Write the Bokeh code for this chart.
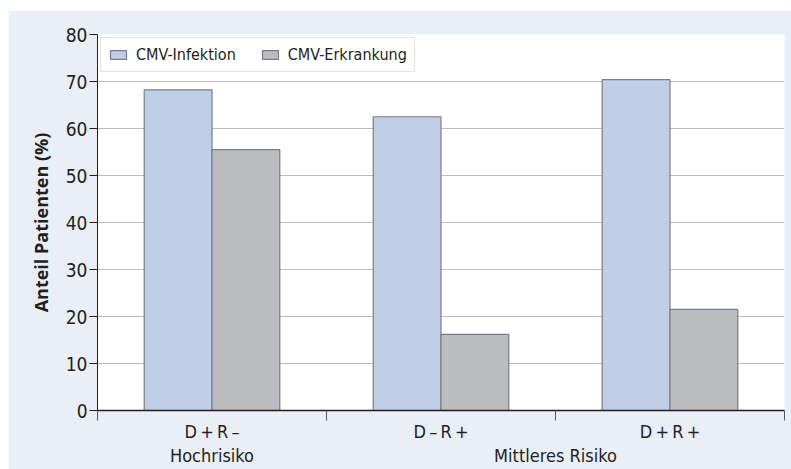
from bokeh.plotting import figure
from bokeh.models import (ColumnDataSource, FixedTicker, LinearAxis, Legend, LegendItem, Range1d)
from bokeh.embed import file_html
from bokeh.resources import INLINE

groups = ["D\u2009+\u2009R\u2009\u2013", "D\u2009\u2013\u2009R\u2009+", "D\u2009+\u2009R\u2009+"]
infektion = [68.2, 62.5, 70.4]
erkrankung = [55.5, 16.2, 21.5]
series_names = ["CMV-Infektion", "CMV-Erkrankung"]
group_labels = ["Hochrisiko", "Mittleres Risiko"]
y_ticks = [0, 10, 20, 30, 40, 50, 60, 70, 80]

FONT = "DejaVu Sans Condensed, Open Sans, sans-serif"
BG = "#e9eef7"
BLUE = "#c1cee8"
GRAY = "#bbbcc0"
EDGE = "#7a7d85"
TXT = "#231f20"

centers = [i + 0.5 for i in range(len(groups))]
bw = 0.296
src1 = ColumnDataSource(dict(x=[c - bw / 2 for c in centers], top=infektion))
src2 = ColumnDataSource(dict(x=[c + bw / 2 for c in centers], top=erkrankung))

p = figure(width=783, height=459, output_backend="svg", toolbar_location=None,
           x_range=Range1d(0, 3), y_range=Range1d(0, 80),
           min_border_left=89, min_border_right=7, min_border_top=24, min_border_bottom=59,
           background_fill_color="white", border_fill_color=BG, outline_line_color=None,
           x_axis_location=None, y_axis_location=None)
p.margin = (10, 0, 0, 8)

r1 = p.vbar(x="x", top="top", width=bw, source=src1, fill_color=BLUE, line_color=EDGE, line_width=1.2)
r2 = p.vbar(x="x", top="top", width=bw, source=src2, fill_color=GRAY, line_color=EDGE, line_width=1.2)

# y axis
yax = LinearAxis(ticker=FixedTicker(ticks=y_ticks), axis_label="Anteil Patienten (%)")
yax.major_tick_out = 8
yax.major_tick_in = 0
yax.minor_tick_line_color = None
yax.major_label_standoff = 2
yax.major_label_text_font = FONT
yax.major_label_text_font_size = "19px"
yax.major_label_text_color = TXT
yax.axis_label_text_font = "Open Sans"
yax.axis_label_text_font_style = "bold"
yax.axis_label_text_font_size = "18px"
yax.axis_label_text_color = TXT
yax.axis_label_standoff = 10
yax.axis_line_color = TXT
yax.major_tick_line_color = TXT
p.add_layout(yax, "left")

# x axis: category labels with boundary minor ticks
xax = LinearAxis(ticker=FixedTicker(ticks=centers, minor_ticks=[0, 1, 2, 3]))
xax.major_label_overrides = {c: g for c, g in zip(centers, groups)}
xax.major_tick_out = 0
xax.major_tick_in = 0
xax.minor_tick_out = 10
xax.minor_tick_in = 0
xax.minor_tick_line_color = "#555555"
xax.axis_line_color = TXT
xax.axis_line_width = 1.5
xax.major_label_standoff = 0
xax.major_label_text_font = FONT
xax.major_label_text_font_size = "18px"
xax.major_label_text_color = TXT
p.add_layout(xax, "below")

# group labels
gpos = [0.5, 2.0]
gax = LinearAxis(ticker=FixedTicker(ticks=gpos, minor_ticks=[]))
gax.major_label_overrides = {g: l for g, l in zip(gpos, group_labels)}
gax.axis_line_color = None
gax.major_tick_line_color = None
gax.major_tick_out = 0
gax.major_tick_in = 0
gax.major_label_standoff = 0
gax.major_label_text_font = FONT
gax.major_label_text_font_size = "18px"
gax.major_label_text_color = TXT
p.add_layout(gax, "below")

p.xgrid.grid_line_color = None
p.ygrid.ticker = FixedTicker(ticks=y_ticks[1:-1])
p.ygrid.grid_line_color = "#bdbdbd"
p.ygrid.grid_line_width = 1.2

legend = Legend(items=[LegendItem(label=series_names[0], renderers=[r1]),
                       LegendItem(label=series_names[1], renderers=[r2])],
                location="top_left", orientation="horizontal")
legend.margin = 3
legend.padding = 7
legend.spacing = 24
legend.glyph_width = 20
legend.glyph_height = 11
legend.label_standoff = 8
legend.label_text_font = FONT
legend.label_text_font_size = "16px"
legend.label_text_color = TXT
legend.border_line_color = "#c8c8c8"
legend.background_fill_color = "white"
legend.background_fill_alpha = 1
p.add_layout(legend, "center")

open("out.html", "w").write(file_html(p, INLINE))
